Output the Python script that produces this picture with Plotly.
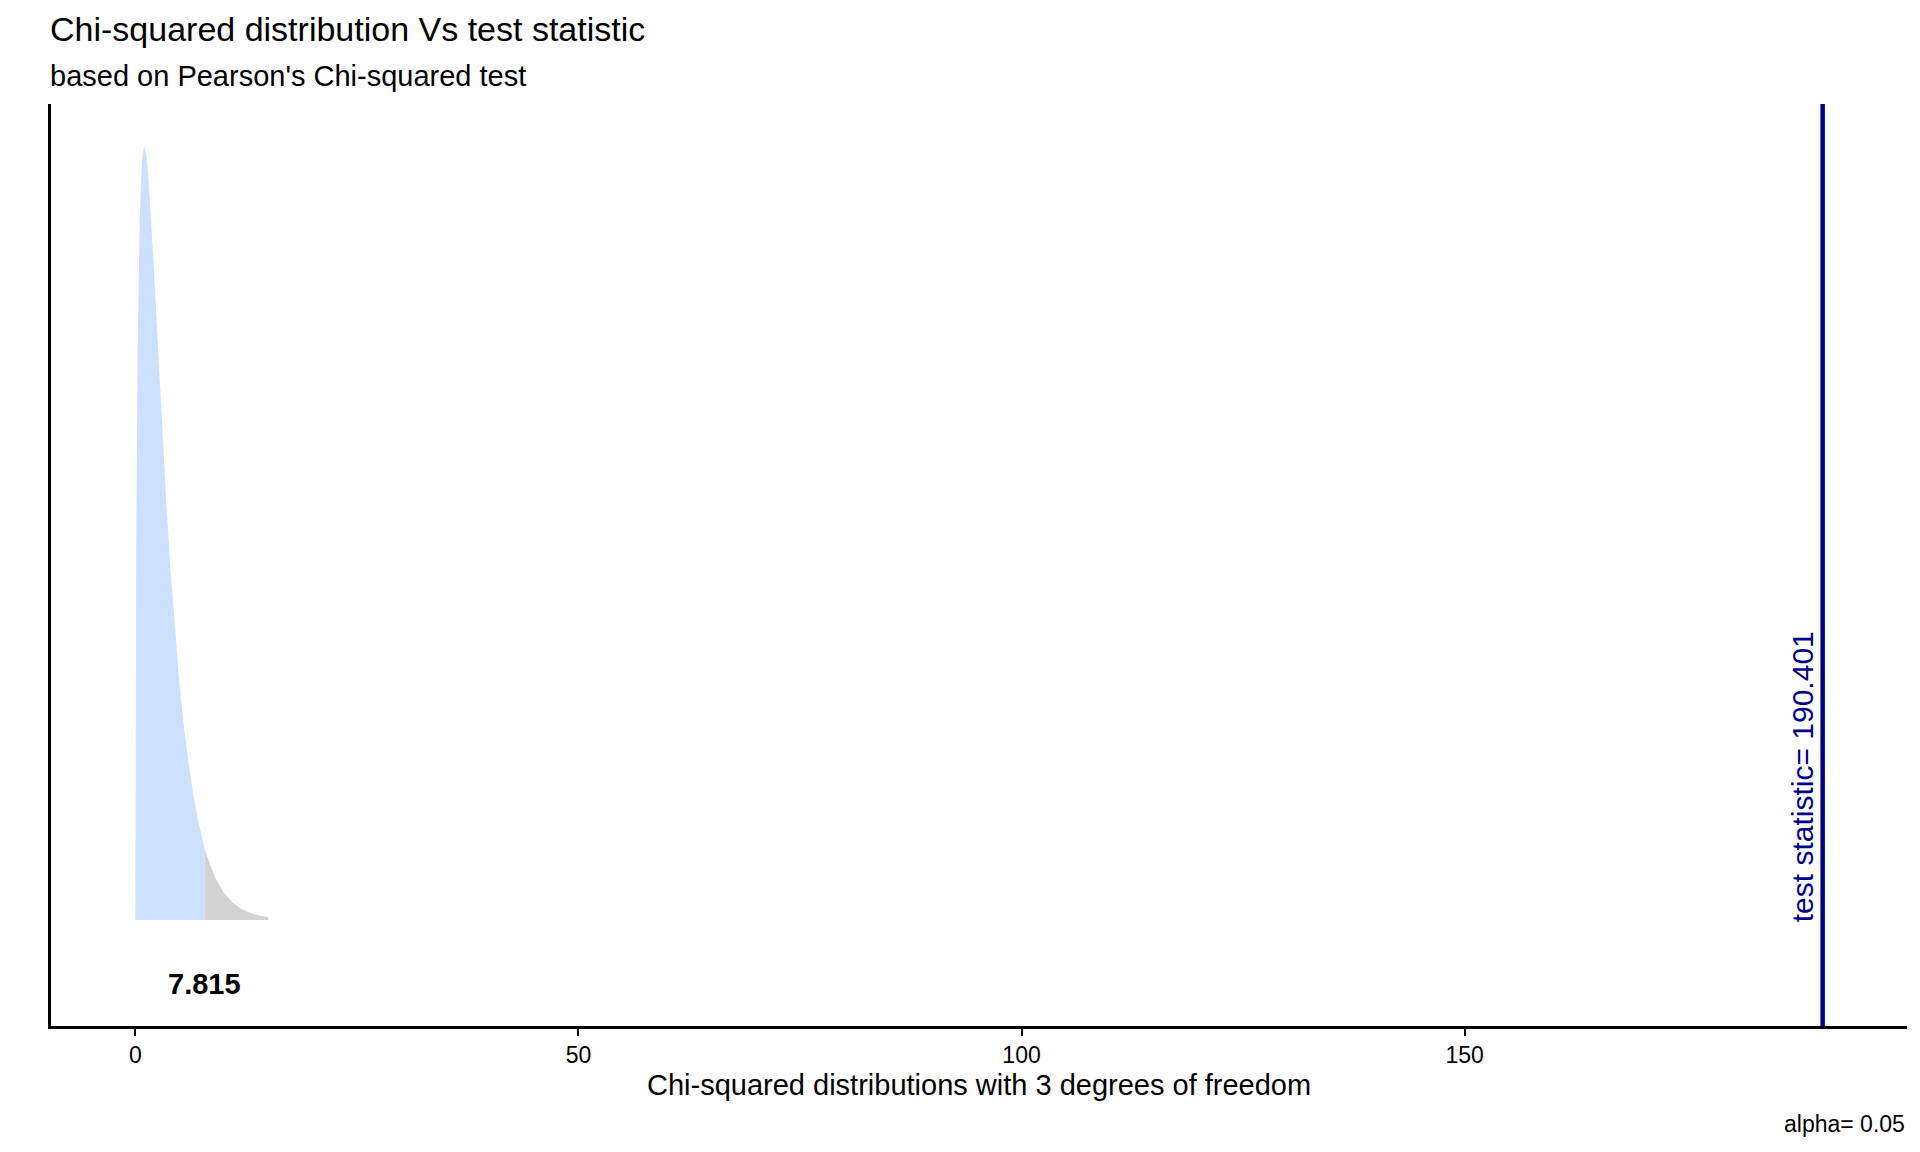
import plotly.graph_objects as go

# Chi-squared density (3 df)
chi_x = [0, 0.05, 0.1, 0.25, 0.5, 0.75, 1, 1.25, 1.5, 2, 2.5, 3, 3.5, 4, 4.5, 5,
         5.5, 6, 6.5, 7, 7.815, 8, 9, 10, 11, 12, 13, 14, 15]
chi_density = [0, 0.087, 0.120, 0.176, 0.220, 0.238, 0.242, 0.239, 0.231, 0.208,
               0.181, 0.154, 0.130, 0.108, 0.089, 0.073, 0.060, 0.049, 0.040,
               0.032, 0.0224, 0.0207, 0.0133, 0.0085, 0.0054, 0.0034, 0.0022,
               0.0014, 0.0009]

critical_value = 7.815
test_stat = 190.401
alpha = 0.05
df_free = 3
x_ticks = [0, 50, 100, 150]

FONT = "Arial, Liberation Sans, sans-serif"

# split curve into acceptance (blue) and rejection (grey) regions
acc_x = [x for x in chi_x if x <= critical_value]
acc_y = [y for x, y in zip(chi_x, chi_density) if x <= critical_value]
rej_x = [x for x in chi_x if x >= critical_value]
rej_y = [y for x, y in zip(chi_x, chi_density) if x >= critical_value]

fig = go.Figure()
fig.add_trace(go.Scatter(x=acc_x, y=acc_y, mode="lines", fill="tozeroy",
                         fillcolor="#cce0ff", line=dict(width=0, color="#cce0ff"),
                         hoverinfo="skip"))
fig.add_trace(go.Scatter(x=rej_x, y=rej_y, mode="lines", fill="tozeroy",
                         fillcolor="#d3d3d3", line=dict(width=0, color="#d3d3d3"),
                         hoverinfo="skip"))

# test statistic line
fig.add_vline(x=test_stat, line=dict(color="#00008b", width=4.5))

annotations = [
    dict(text="Chi-squared distribution Vs test statistic", xref="paper", yref="paper",
         x=0, y=1.0813, xanchor="left", yanchor="middle", showarrow=False, xshift=-3,
         font=dict(size=34, color="black", family=FONT)),
    dict(text="based on Pearson's Chi-squared test", xref="paper", yref="paper",
         x=0, y=1.0304, xanchor="left", yanchor="middle", showarrow=False, xshift=-3,
         font=dict(size=29, color="black", family=FONT)),
    dict(text=f"Chi-squared distributions with {df_free} degrees of freedom",
         xref="paper", yref="paper", x=0.5, y=-0.064, xanchor="center",
         yanchor="middle", showarrow=False,
         font=dict(size=29, color="black", family=FONT)),
    dict(text=f"alpha= {alpha}", xref="paper", yref="paper", x=1, y=-0.1063,
         xanchor="right", yanchor="middle", showarrow=False,
         font=dict(size=23, color="black", family=FONT)),
    dict(text=f"<b>{critical_value}</b>", xref="x", yref="y", x=critical_value,
         y=-0.02, xanchor="center", yanchor="middle", showarrow=False,
         font=dict(size=29, color="black", family=FONT)),
    dict(text=f"test statistic= {test_stat}", xref="x", yref="y", x=test_stat,
         y=0, xanchor="center", yanchor="bottom", xshift=-20, yshift=-4,
         textangle=-90, showarrow=False,
         font=dict(size=30, color="#00008b", family=FONT)),
]

fig.update_layout(
    width=1920, height=1152,
    margin=dict(l=43, r=21, t=96, b=134),
    paper_bgcolor="white", plot_bgcolor="white",
    showlegend=False,
    annotations=annotations,
    font=dict(family=FONT, color="black"),
)
fig.update_xaxes(range=[-9.52, 199.92], tickvals=x_ticks, ticks="outside",
                 ticklen=7, tickwidth=2, tickcolor="black", showgrid=False,
                 zeroline=False, showline=True, linecolor="black", linewidth=2.5,
                 tickfont=dict(size=23, color="black", family=FONT))
fig.update_yaxes(range=[-0.0331, 0.2551], showticklabels=False, ticks="",
                 showgrid=False, zeroline=False, showline=True,
                 linecolor="black", linewidth=2.5)

fig.write_html("out.html")
